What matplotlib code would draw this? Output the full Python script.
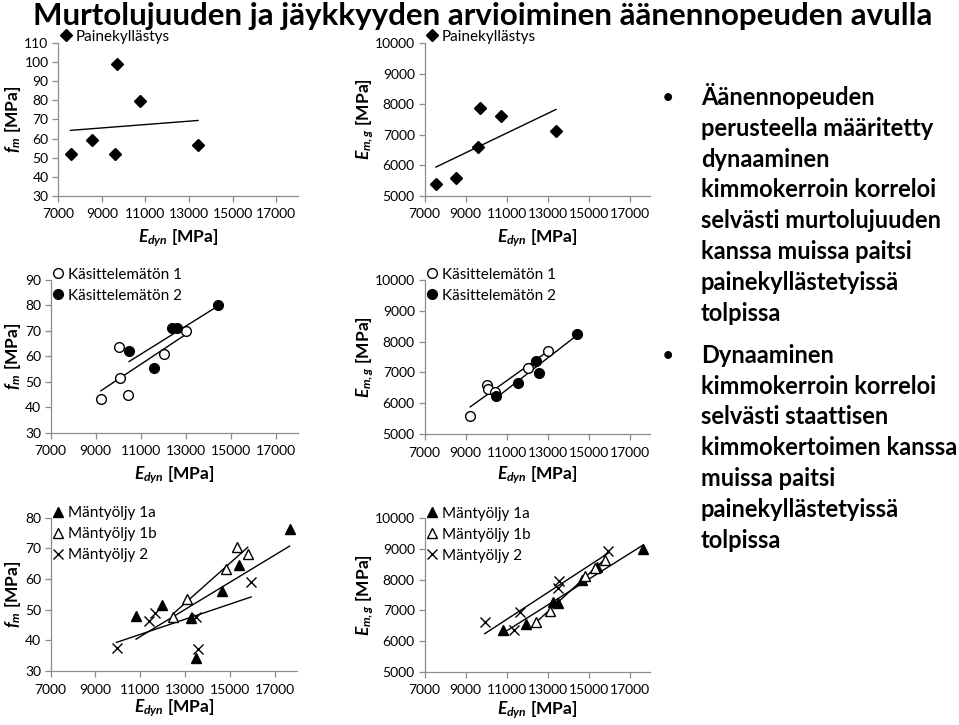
import matplotlib
matplotlib.use("Agg")
import matplotlib.pyplot as plt
import numpy as np

plt.rcParams['font.family'] = ['Lato', 'DejaVu Sans']
plt.rcParams['mathtext.fontset'] = 'custom'
plt.rcParams['mathtext.it'] = 'Lato:bold:italic'
plt.rcParams['mathtext.rm'] = 'Lato:bold'
plt.rcParams['mathtext.bf'] = 'Lato:bold'

# --- data ---
# Painekyllästys
pk_edyn = [7560, 8540, 9610, 9700, 10750, 13415]
pk_fm = [51.9, 59.2, 52.1, 98.9, 79.7, 56.6]
pk_em = [5400, 5590, 6610, 7890, 7610, 7130]

# Käsittelemätön 1 / 2
k1_edyn = [9230, 10050, 10075, 10420, 12040, 13020]
k1_fm = [43.1, 63.5, 51.5, 45.0, 61.0, 70.1]
k1_em = [5595, 6580, 6450, 6360, 7130, 7680]
k2_edyn = [10485, 11580, 12415, 12600, 14430]
k2_fm = [62.1, 55.5, 71.0, 71.3, 80.0]
k2_em = [6235, 6660, 7385, 6980, 8260]

# Mäntyöljy 1a / 1b / 2
m1a_edyn = [10810, 11960, 13270, 13510, 14660, 15420, 17670]
m1a_fm = [48.1, 51.6, 47.4, 34.1, 56.2, 64.6, 76.4]
m1a_em = [6365, 6555, 7285, 7225, 7975, 8425, 9000]
m1b_edyn = [12440, 13100, 14850, 15340, 15800]
m1b_fm = [47.7, 53.5, 63.4, 70.3, 68.2]
m1b_em = [6620, 6980, 8130, 8380, 8650]
m2_edyn = [9940, 11380, 11640, 13500, 13580, 15950]
m2_fm = [37.5, 46.4, 48.8, 47.6, 37.1, 58.9]
m2_em = [6630, 6360, 6930, 7730, 7970, 8945]

xticks = [7000, 9000, 11000, 13000, 15000, 17000]

title = "Murtolujuuden ja jäykkyyden arvioiminen äänennopeuden avulla"
bullet1 = ["Äänennopeuden", "perusteella määritetty", "dynaaminen",
           "kimmokerroin korreloi", "selvästi murtolujuuden",
           "kanssa muissa paitsi", "painekyllästetyissä", "tolpissa"]
bullet2 = ["Dynaaminen", "kimmokerroin korreloi", "selvästi staattisen",
           "kimmokertoimen kanssa", "muissa paitsi",
           "painekyllästetyissä", "tolpissa"]

W, H = 959, 725
fig = plt.figure(figsize=(W / 100, H / 100), dpi=100)


def px_axes(x0, y0, x1, y1):
    ax = fig.add_axes([x0 / W, 1 - y1 / H, (x1 - x0) / W, (y1 - y0) / H])
    ax.box_px = (x0, y0, x1, y1)
    return ax


def style(ax, ylim, ystep, ylabel, xlab_y, ylab_x):
    ax.set_xlim(7000, 18000)
    ax.set_ylim(*ylim)
    ax.set_xticks(xticks)
    ax.set_yticks(np.arange(ylim[0], ylim[1] + 1, ystep))
    for s in ['top', 'right']:
        ax.spines[s].set_visible(False)
    for s in ['left', 'bottom']:
        ax.spines[s].set_color('#8c8c8c')
        ax.spines[s].set_linewidth(0.9)
    ax.tick_params(direction='out', length=4, width=0.9, color='#8c8c8c',
                   labelsize=10, pad=3)
    ax.tick_params(axis='x', pad=5)
    ax.set_xlabel(r'$E_{dyn}$ [MPa]', fontsize=12.5, fontweight='bold', va='center')
    ax.set_ylabel(ylabel, fontsize=12.5, fontweight='bold', va='center', ha='center')
    # label centres in figure pixels -> axes fractions
    x0, y0, x1, y1 = ax.box_px
    ax.xaxis.set_label_coords(0.5, (y1 - xlab_y) / (y1 - y0))
    ax.yaxis.set_label_coords((ylab_x - x0) / (x1 - x0), 0.5)


def trend(ax, x, y):
    k, b = np.polyfit(x, y, 1)
    xs = np.array([min(x), max(x)])
    ax.plot(xs, k * xs + b, color='black', lw=1.0, zorder=1)


def leg(ax, y):
    ax.legend(loc='upper left', bbox_to_anchor=(-0.005, y), frameon=False,
              fontsize=11, handletextpad=0.1, labelspacing=0.45,
              borderpad=0, handlelength=1.1, borderaxespad=0)


fm_lab = r'$f_m$ [MPa]'
em_lab = r'$E_{m,g}$ [MPa]'

# ---- left column: f_m ----
ax = px_axes(58.3, 43.3, 298, 195.7)
ax.plot(pk_edyn, pk_fm, 'D', color='black', ms=6, label='Painekyllästys')
trend(ax, pk_edyn, pk_fm)
style(ax, (30, 110), 10, fm_lab, 238, 13)
leg(ax, 1.09)

ax = px_axes(50.7, 280, 298, 432.7)
ax.plot(k1_edyn, k1_fm, 'o', mfc='white', mec='black', mew=1, ms=7, label='Käsittelemätön 1')
ax.plot(k2_edyn, k2_fm, 'o', color='black', ms=7, label='Käsittelemätön 2')
trend(ax, k1_edyn, k1_fm)
trend(ax, k2_edyn, k2_fm)
style(ax, (30, 90), 10, fm_lab, 475, 13)
leg(ax, 1.08)

ax = px_axes(50.7, 517.7, 297, 671)
ax.plot(m1a_edyn, m1a_fm, '^', color='black', ms=7, label='Mäntyöljy 1a')
ax.plot(m1b_edyn, m1b_fm, '^', mfc='white', mec='black', mew=1, ms=7, label='Mäntyöljy 1b')
ax.plot(m2_edyn, m2_fm, 'x', color='black', mew=1, ms=7, label='Mäntyöljy 2')
trend(ax, m1a_edyn, m1a_fm)
trend(ax, m1b_edyn, m1b_fm)
trend(ax, m2_edyn, m2_fm)
style(ax, (30, 80), 10, fm_lab, 708, 13)
leg(ax, 1.075)

# ---- right column: E_m,g ----
ax = px_axes(424.5, 43.3, 650, 195.7)
ax.plot(pk_edyn, pk_em, 'D', color='black', ms=6, label='Painekyllästys')
trend(ax, pk_edyn, pk_em)
style(ax, (5000, 10000), 1000, em_lab, 238, 365)
leg(ax, 1.09)

ax = px_axes(424.5, 280, 650, 434)
ax.plot(k1_edyn, k1_em, 'o', mfc='white', mec='black', mew=1, ms=7, label='Käsittelemätön 1')
ax.plot(k2_edyn, k2_em, 'o', color='black', ms=7, label='Käsittelemätön 2')
trend(ax, k1_edyn, k1_em)
trend(ax, k2_edyn, k2_em)
style(ax, (5000, 10000), 1000, em_lab, 475, 365)
leg(ax, 1.08)

ax = px_axes(424.5, 518.3, 650, 671.7)
ax.plot(m1a_edyn, m1a_em, '^', color='black', ms=7, label='Mäntyöljy 1a')
ax.plot(m1b_edyn, m1b_em, '^', mfc='white', mec='black', mew=1, ms=7, label='Mäntyöljy 1b')
ax.plot(m2_edyn, m2_em, 'x', color='black', mew=1, ms=7, label='Mäntyöljy 2')
trend(ax, m1a_edyn, m1a_em)
trend(ax, m1b_edyn, m1b_em)
trend(ax, m2_edyn, m2_em)
style(ax, (5000, 10000), 1000, em_lab, 710, 365)
leg(ax, 1.075)

# ---- title and bullet text ----
fig.text(33 / W, 1 - 25 / H, title, fontsize=22.5, fontweight='bold',
         va='baseline', ha='left')

line_h = 30.8
for blk, y0 in [(bullet1, 105), (bullet2, 362.7)]:
    fig.text(663 / W, 1 - (y0 - 2) / H, "•", fontsize=13, fontweight='bold', va='baseline')
    for i, t in enumerate(blk):
        fig.text(701 / W, 1 - (y0 + i * line_h) / H, t, fontsize=17,
                 fontweight='bold', va='baseline', ha='left')

fig.savefig('out.png', dpi=100)
